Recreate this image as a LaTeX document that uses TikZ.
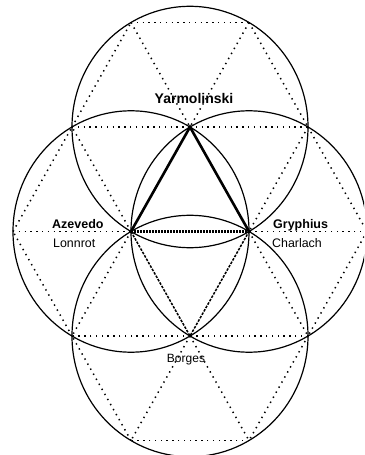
\documentclass[tikz,border=0pt]{standalone}
\usepackage{fontspec}
\setmainfont{Liberation Sans}
\begin{document}
\begin{tikzpicture}[x=1pt,y=-1pt,
  dotline/.style={line width=1.5pt, dash pattern=on 1.4pt off 4.4pt},
  ring/.style={line width=1.2pt},
  heavyline/.style={line width=2.6pt},
  heavydots/.style={line width=2.4pt, dash pattern=on 1.5pt off 1.5pt},
  finedash/.style={line width=1.5pt, dash pattern=on 2.6pt off 1.3pt},
  boldlabel/.style={font=\bfseries\fontsize{12.5}{14}\selectfont, inner sep=0pt, anchor=base west},
  plainlabel/.style={font=\fontsize{12.4}{14}\selectfont, inner sep=0pt, anchor=base west}]
\useasboundingbox (0,0) rectangle (364,455);
\clip (0,0) rectangle (364,455);
% lattice points
\coordinate (Y) at (190,127);
\coordinate (A) at (131,231.5);
\coordinate (G) at (249,231.5);
\coordinate (B) at (190,336);
\coordinate (T1) at (131,22.5);
\coordinate (T2) at (249,22.5);
\coordinate (L1) at (72,127);
\coordinate (R1) at (308,127);
\coordinate (L2) at (13,231.5);
\coordinate (R2) at (367,231.5);
\coordinate (L3) at (72,336);
\coordinate (R3) at (308,336);
\coordinate (D1) at (131,440.5);
\coordinate (D2) at (249,440.5);
% dotted triangular grid
\foreach \p/\q in {T1/T2, T2/R1, R1/G, A/L1, L1/T1, T1/Y, T2/Y, L1/Y, Y/R1,
                   B/L3, L3/L2, L2/L1, L2/A, A/L3,
                   R1/R2, R2/R3, R3/B, R2/G, G/R3,
                   R3/D2, D2/D1, D1/L3, B/D2, B/D1}
  \draw[dotline] (\p) -- (\q);
% circles
\foreach \c in {Y,A,G,B}
  \draw[ring] (\c) ellipse [x radius=118pt, y radius=120.7pt];
% triangle
\draw[heavyline] (A) -- (Y) -- (G);
\draw[heavydots] (A) -- (G);
\draw[finedash] (A) -- (B) -- (G);
% labels
\node[boldlabel, font=\bfseries\fontsize{14}{16}\selectfont, anchor=base] (ly) at (194,103) {Yarmolinski};
\node[boldlabel] (la) at (52,228) {Azevedo};
\node[plainlabel] (ll) at (53,247) {Lonnrot};
\node[boldlabel] (lg) at (273,228.5) {Gryphius};
\node[plainlabel] (lc) at (272,247) {Charlach};
\node[plainlabel, font=\fontsize{12}{14}\selectfont, anchor=base] (lb) at (186,362) {Borges};
\end{tikzpicture}
\end{document}
